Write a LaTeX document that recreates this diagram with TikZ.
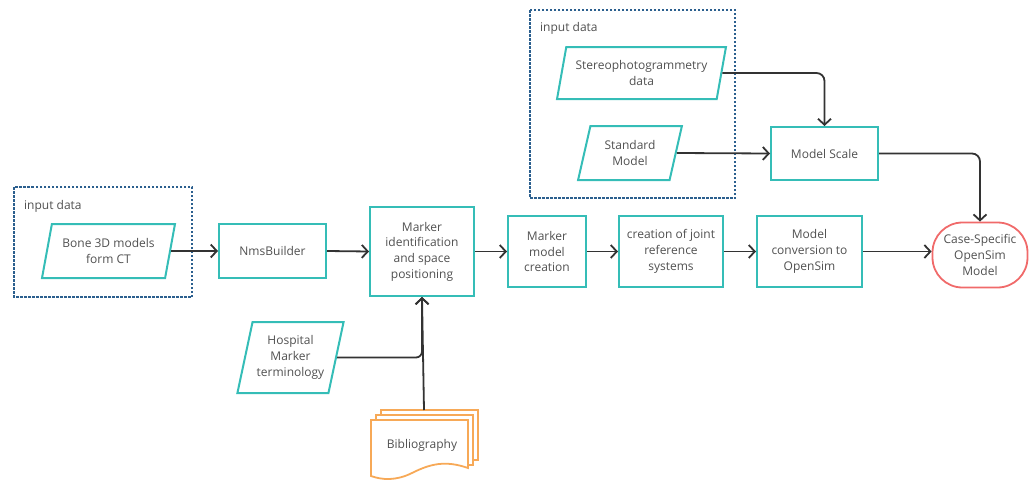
\documentclass[tikz,border=0pt]{standalone}
\usepackage{fontspec}
\setmainfont{Open Sans}
\usetikzlibrary{shapes.geometric,arrows.meta}
\definecolor{teal1}{HTML}{35BDB7}
\definecolor{dblue}{HTML}{2B5F8E}
\definecolor{orng}{HTML}{F7A957}
\definecolor{redc}{HTML}{F06A6A}
\definecolor{txt}{HTML}{505050}
\definecolor{arr}{HTML}{333333}
\tikzset{
  lbl/.style={font=\fontsize{12}{15.7}\selectfont, text=txt, align=center},
  procbox/.style={lbl, draw=teal1, line width=2pt, rectangle, inner sep=2pt},
  databox/.style={lbl, draw=teal1, line width=2pt, trapezium, trapezium left angle=73, trapezium right angle=107, trapezium stretches=true, inner sep=1pt},
  grpbox/.style={draw=dblue, line width=2pt, dash pattern=on 2.5pt off 1.5pt},
  conn/.style={draw=arr, line width=1.8pt, -{Straight Barb[length=6pt,width=13pt,line width=1.8pt]}},
  grptitle/.style={font=\fontsize{12}{14}\selectfont, text=txt, anchor=west, inner sep=0pt},
}
\begin{document}
\begin{tikzpicture}[x=1pt,y=-1pt]
\useasboundingbox (0,0) rectangle (1034,482);
% group boxes
\draw[grpbox] (14,187) rectangle (192,297);
\node[grptitle] (t1) at (24,206) {input data};
\draw[grpbox] (530,10) rectangle (735,198);
\node[grptitle] (t2) at (540,28) {input data};
% nodes
\node[databox, minimum width=133, minimum height=54] (bone) at (108.5,251) {Bone 3D models\\form CT};
\node[procbox, minimum width=107, minimum height=54] (nms) at (272.5,251) {NmsBuilder};
\node[procbox, minimum width=104, minimum height=89] (mid) at (422,251.5) {Marker\\identification\\and space\\positioning};
\node[procbox, minimum width=78, minimum height=71] (mmc) at (547,251.5) {Marker\\model\\creation};
\node[procbox, minimum width=104, minimum height=71] (cjr) at (671,251.5) {creation of joint\\reference\\systems};
\node[procbox, minimum width=105, minimum height=71] (mco) at (809.5,251.5) {Model\\conversion to\\OpenSim};
\node[lbl, draw=redc, line width=1.8pt, rectangle, rounded corners=30pt, minimum width=95, minimum height=65] (case) at (980,255) {Case-Specific\\OpenSim\\Model};
\node[databox, minimum width=169, minimum height=52] (stereo) at (641.5,73) {Stereophotogrammetry\\data};
\node[databox, minimum width=104, minimum height=54] (std) at (630,153) {Standard\\Model};
\node[procbox, minimum width=107, minimum height=53] (ms) at (824.5,153.5) {Model Scale};
\node[databox, minimum width=107, minimum height=71] (hosp) at (290.5,357.5) {Hospital\\Marker\\terminology};
% bibliography (multi-document)
\begin{scope}[draw=orng, line width=1.8pt]
  \draw (381,415) -- (381,410) -- (478,410) -- (478,460) -- (473,460);
  \draw (376,420) -- (376,415) -- (473,415) -- (473,465) -- (468,465);
  \draw[fill=white] (371,420) -- (468,420) -- (468,468) .. controls (445,460) and (430,464) .. (412,473) .. controls (396,481) and (382,480) .. (371,476) -- cycle;
\end{scope}
\node[lbl] (bib) at (422,445) {Bibliography};
\coordinate (bibtop) at (424,410);
% connectors
\draw[conn] (bone.east) -- (nms.west);
\draw[conn] (nms.east) -- (mid.west);
\draw[conn] (mid.east) -- (mmc.west);
\draw[conn] (mmc.east) -- (cjr.west);
\draw[conn] (cjr.east) -- (mco.west);
\draw[conn] (mco.east) -- (case.west |- mco.east);
\draw[conn, rounded corners=8pt] (stereo.east) -| (ms.north);
\draw[conn] (std.east) -- (ms.west);
\draw[conn, rounded corners=8pt] (ms.east) -| (case.north);
\draw[conn, rounded corners=6pt] (hosp.east) -| (mid.south);
\draw[conn] (bibtop) -- (mid.south);
\end{tikzpicture}
\end{document}
